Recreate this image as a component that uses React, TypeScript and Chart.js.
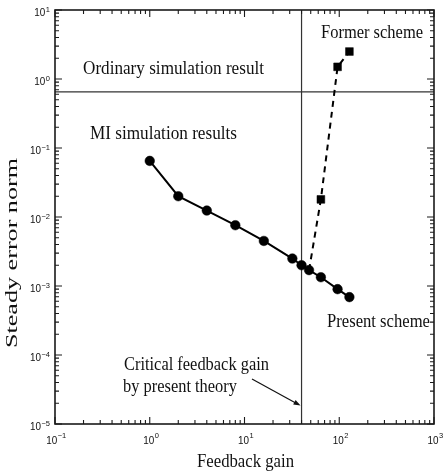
import React, { useEffect, useRef } from 'react';
import { Chart, registerables } from 'chart.js';

Chart.register(...registerables);

// ---- data ----
const presentGain = [1, 2, 4, 8, 16, 32, 40, 48, 64, 96, 128];
const presentError = [0.065, 0.020, 0.0124, 0.0076, 0.0045, 0.0025, 0.0020, 0.0017, 0.00134, 0.0009, 0.00069];
const formerGain = [48, 64, 96, 128];
const formerError = [0.0017, 0.018, 1.5, 2.5];
const formerMarker = [false, true, true, true];
const ordinaryError = 0.65;
const criticalGain = 40;
const arrowTipError = 1.85e-5;
const xRange = [0.1, 1000];
const yRange = [1e-5, 10];
const xTickExponents = [-1, 0, 1, 2, 3];
const yTickExponents = [1, 0, -1, -2, -3, -4, -5];
const minorMultipliers = [2, 3, 4, 5, 6, 7, 8, 9];

const SERIF = '"Liberation Serif", "Times New Roman", serif';
const SANS = '"Liberation Sans", Arial, sans-serif';
const INK = '#111';

function fitText(ctx: CanvasRenderingContext2D, text: string, x: number, y: number, width: number, size: number, rotate = false) {
  ctx.save();
  ctx.font = `${size}px ${SERIF}`;
  ctx.fillStyle = INK;
  ctx.textAlign = 'left';
  ctx.textBaseline = 'alphabetic';
  const w = ctx.measureText(text).width;
  ctx.translate(x, y);
  if (rotate) ctx.rotate(-Math.PI / 2);
  ctx.scale(width / w, 1);
  ctx.fillText(text, 0, 0);
  ctx.restore();
}

function expLabel(e: number) {
  return e < 0 ? '\u2212' + Math.abs(e) : String(e);
}

const decorPlugin = {
  id: 'decor',
  afterDraw(chart: any) {
    const ctx: CanvasRenderingContext2D = chart.ctx;
    const xs = chart.scales.x;
    const ys = chart.scales.y;
    const { left, right, top, bottom } = chart.chartArea;
    ctx.save();

    // frame
    ctx.strokeStyle = '#1a1a1a';
    ctx.lineWidth = 1.6;
    ctx.strokeRect(left, top, right - left, bottom - top);

    // ticks
    ctx.lineWidth = 1.1;
    ctx.beginPath();
    const xMinE = Math.log10(xRange[0]);
    const xMaxE = Math.log10(xRange[1]);
    for (let e = xMinE; e <= xMaxE; e++) {
      const vals = [1, ...(e < xMaxE ? minorMultipliers : [])];
      vals.forEach((m) => {
        const px = xs.getPixelForValue(m * Math.pow(10, e));
        const len = m === 1 ? 7 : 4;
        ctx.moveTo(px, bottom); ctx.lineTo(px, bottom - len);
        ctx.moveTo(px, top); ctx.lineTo(px, top + len);
      });
    }
    const yMinE = Math.log10(yRange[0]);
    const yMaxE = Math.log10(yRange[1]);
    for (let e = yMinE; e <= yMaxE; e++) {
      const vals = [1, ...(e < yMaxE ? minorMultipliers : [])];
      vals.forEach((m) => {
        const py = ys.getPixelForValue(m * Math.pow(10, e));
        const len = m === 1 ? 7 : 4;
        ctx.moveTo(left, py); ctx.lineTo(left + len, py);
        ctx.moveTo(right, py); ctx.lineTo(right - len, py);
      });
    }
    ctx.stroke();

    // tick labels
    ctx.fillStyle = INK;
    ctx.textBaseline = 'alphabetic';
    ctx.textAlign = 'left';
    const baseFont = `11.5px ${SANS}`;
    const supFont = `7.5px ${SANS}`;
    const sx = 0.86;
    xTickExponents.forEach((e) => {
      const px = xs.getPixelForValue(Math.pow(10, e));
      ctx.font = baseFont;
      const w10 = ctx.measureText('10').width * sx;
      ctx.font = supFont;
      const wE = ctx.measureText(expLabel(e)).width;
      const x0 = px - (w10 + wE) / 2 + 1;
      ctx.save();
      ctx.translate(x0, bottom + 20);
      ctx.scale(sx, 1);
      ctx.font = baseFont;
      ctx.fillText('10', 0, 0);
      ctx.restore();
      ctx.font = supFont;
      ctx.fillText(expLabel(e), x0 + w10 + 0.5, bottom + 13.5);
    });
    yTickExponents.forEach((e) => {
      const py = ys.getPixelForValue(Math.pow(10, e));
      ctx.font = baseFont;
      const w10 = ctx.measureText('10').width * sx;
      ctx.font = supFont;
      const wE = ctx.measureText(expLabel(e)).width;
      const xr = left - 5;
      const x0 = xr - wE - w10 - 0.5;
      ctx.save();
      ctx.translate(x0, py + 6);
      ctx.scale(sx, 1);
      ctx.font = baseFont;
      ctx.fillText('10', 0, 0);
      ctx.restore();
      ctx.font = supFont;
      ctx.fillText(expLabel(e), xr - wE, py + 1.5);
    });

    // axis titles
    fitText(ctx, 'Feedback gain', 197, 467, 97, 19);
    fitText(ctx, 'Steady error norm', 17, 348, 190, 17.5, true);

    // annotations
    fitText(ctx, 'Ordinary simulation result', 83, 74, 181, 19);
    fitText(ctx, 'MI simulation results', 90, 139, 147, 19);
    fitText(ctx, 'Former scheme', 321, 38, 102, 19);
    fitText(ctx, 'Present scheme', 327, 327, 103, 19);
    fitText(ctx, 'Critical feedback gain', 124, 370, 145, 19);
    fitText(ctx, 'by present theory', 123, 392, 114, 19);

    // arrow
    const tipX = xs.getPixelForValue(criticalGain) - 1;
    const tipY = ys.getPixelForValue(arrowTipError);
    const sX = 252, sY = 379;
    const ang = Math.atan2(tipY - sY, tipX - sX);
    ctx.strokeStyle = INK;
    ctx.lineWidth = 1.2;
    ctx.beginPath();
    ctx.moveTo(sX, sY);
    ctx.lineTo(tipX - 5 * Math.cos(ang), tipY - 5 * Math.sin(ang));
    ctx.stroke();
    ctx.beginPath();
    ctx.moveTo(tipX, tipY);
    ctx.lineTo(tipX - 7 * Math.cos(ang) + 2.5 * Math.sin(ang), tipY - 7 * Math.sin(ang) - 2.5 * Math.cos(ang));
    ctx.lineTo(tipX - 7 * Math.cos(ang) - 2.5 * Math.sin(ang), tipY - 7 * Math.sin(ang) + 2.5 * Math.cos(ang));
    ctx.closePath();
    ctx.fillStyle = INK;
    ctx.fill();

    ctx.restore();
  },
};

export default function App() {
  const ref = useRef<HTMLCanvasElement | null>(null);
  useEffect(() => {
    if (!ref.current) return;
    const chart = new Chart(ref.current, {
      type: 'scatter',
      data: {
        datasets: [
          {
            label: 'Present scheme',
            data: presentGain.map((g, i) => ({ x: g, y: presentError[i] })),
            showLine: true,
            borderColor: '#000',
            borderWidth: 2,
            pointStyle: 'circle',
            pointRadius: 4.8,
            pointBackgroundColor: '#000',
            pointBorderColor: '#000',
            pointBorderWidth: 0.5,
          },
          {
            label: 'Former scheme',
            data: formerGain.map((g, i) => ({ x: g, y: formerError[i] })),
            showLine: true,
            borderColor: '#000',
            borderWidth: 2,
            borderDash: [6, 5],
            pointStyle: 'rect',
            pointRadius: formerMarker.map((m) => (m ? 5.5 : 0)),
            pointBackgroundColor: '#000',
            pointBorderColor: '#000',
            pointBorderWidth: 0.5,
          },
          {
            label: 'Ordinary simulation result',
            data: [{ x: xRange[0], y: ordinaryError }, { x: xRange[1], y: ordinaryError }],
            showLine: true,
            borderColor: '#333',
            borderWidth: 1.2,
            pointRadius: 0,
          },
          {
            label: 'Critical feedback gain',
            data: [{ x: criticalGain, y: yRange[0] }, { x: criticalGain, y: yRange[1] }],
            showLine: true,
            borderColor: '#333',
            borderWidth: 1.2,
            pointRadius: 0,
          },
        ],
      },
      options: {
        animation: false,
        responsive: false,
        events: [],
        layout: { padding: { left: 55, right: 9, top: 10, bottom: 51 } },
        plugins: { legend: { display: false }, tooltip: { enabled: false } },
        scales: {
          x: {
            type: 'logarithmic',
            min: xRange[0],
            max: xRange[1],
            ticks: { display: false },
            grid: { display: false, drawTicks: false },
            border: { display: false },
            title: { display: false },
          },
          y: {
            type: 'logarithmic',
            min: yRange[0],
            max: yRange[1],
            ticks: { display: false },
            grid: { display: false, drawTicks: false },
            border: { display: false },
            title: { display: false },
          },
        },
      },
      plugins: [decorPlugin],
    });
    return () => chart.destroy();
  }, []);
  return (
    <div style={{ position: 'absolute', left: 0, top: 0, width: 443, height: 475, background: '#fff' }}>
      <canvas ref={ref} width={443} height={475} style={{ display: 'block', width: 443, height: 475 }} />
    </div>
  );
}
